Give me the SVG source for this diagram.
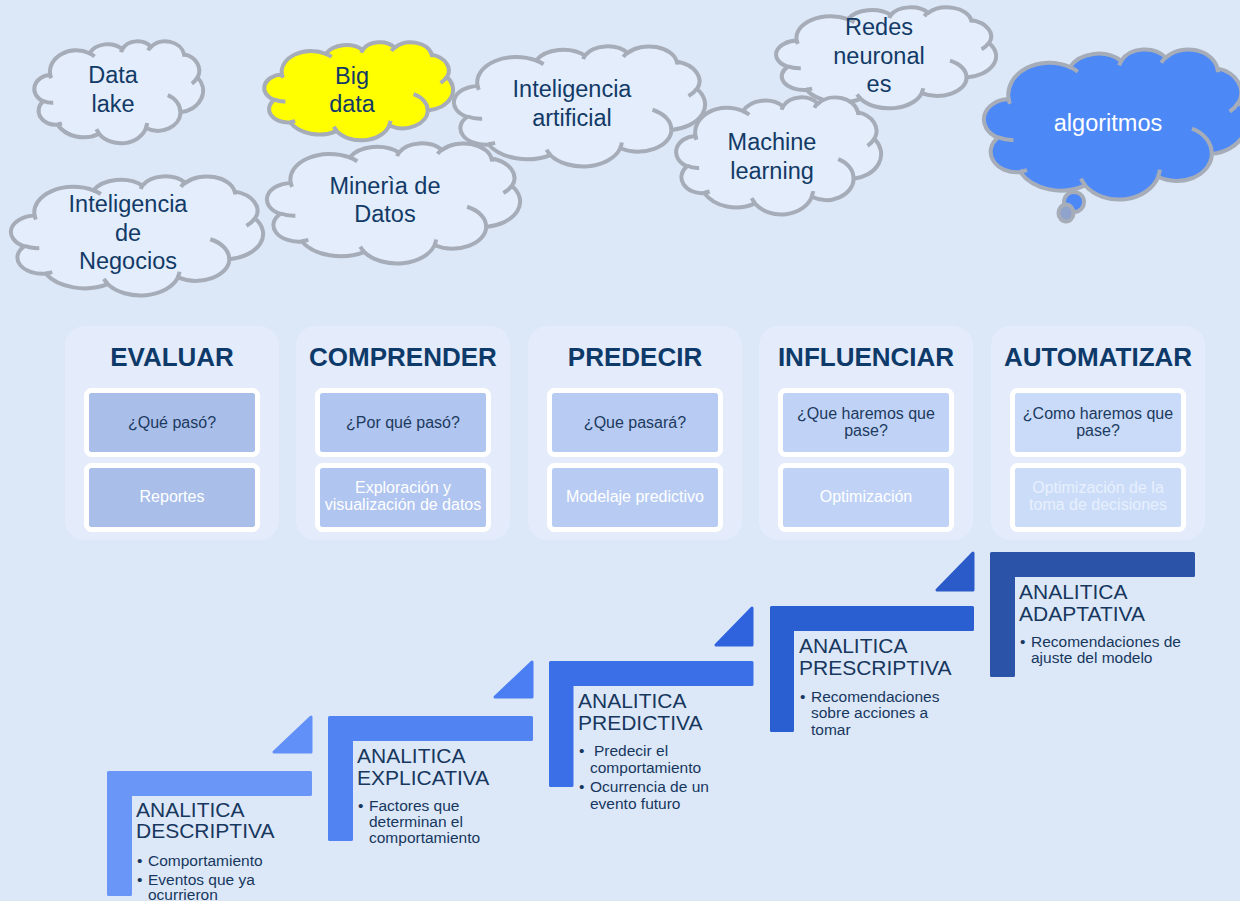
<svg xmlns="http://www.w3.org/2000/svg" xmlns:xlink="http://www.w3.org/1999/xlink" width="1240" height="901" viewBox="0 0 1240 901">
<style>
  .cloud { fill: #e3edfc; stroke: #a6adb8; }
  .cloudtxt { font-family: "Liberation Sans", Arial, sans-serif; font-size: 23.5px; fill: #123a66; text-anchor: middle; }
  .panel { fill: #e4ecfc; }
  .title { font-family: "Liberation Sans", Arial, sans-serif; font-size: 26px; font-weight: bold; fill: #0e3a69; text-anchor: middle; }
  .box { stroke: #ffffff; stroke-width: 5; }
  .qtxt { font-family: "Liberation Sans", Arial, sans-serif; font-size: 16px; fill: #1c3a5e; text-anchor: middle; }
  .atxt { font-family: "Liberation Sans", Arial, sans-serif; font-size: 16px; fill: #ffffff; text-anchor: middle; }
  .head { font-family: "Liberation Sans", Arial, sans-serif; font-size: 21px; fill: #17375e; }
  .bul { font-family: "Liberation Sans", Arial, sans-serif; font-size: 15.5px; fill: #17375e; }
  .step { stroke-width: 3; stroke-linejoin: round; }
</style>
<defs>
  <path id="cloud" vector-effect="non-scaling-stroke" stroke-width="4" d="M9.03,33.26 A15.63,21.27 0 0 1 32.42,12.04 A12.34,16.82 0 0 1 51.98,7.94 A10.1,13.76 0 0 1 69.06,5.74 A11.24,15.27 0 0 1 88.7,12.91 A12.34,16.84 0 0 1 96.81,35.78 A15.68,21.34 0 0 1 86.58,69.91 A13.39,18.21 0 0 1 66.1,85.21 A15.63,21.33 0 0 1 38.15,90.88 A17.87,24.41 0 0 1 13.43,82.1 A10.09,13.7 0 0 1 4.88,59.13 A10.06,13.76 0 0 1 9.03,33.26 Z"/>
  <path id="cloudIn" vector-effect="non-scaling-stroke" stroke-width="4" fill="none" d="M10.86,60.59 A10.06,13.76 0 0 1 5,58.75 M16.04,80.78 A10.09,13.7 0 0 1 13.47,81.67 M38.14,90.49 A15.63,21.33 0 0 1 36.6,86.46 M66.73,80.44 A15.63,21.33 0 0 1 66.11,84.86 M79,53.13 A13.39,18.21 0 0 1 86.53,69.65 M96.75,35.54 A12.34,16.84 0 0 1 93.4,41.74 M88.71,12.56 A11.24,15.27 0 0 1 88.89,15.49 M67.31,9.15 A11.24,15.27 0 0 1 69.03,5.41 M51.25,10.93 A10.1,13.76 0 0 1 52.08,7.71 M32.41,12.02 A15.63,21.27 0 0 1 35.43,15.16 M9.55,36.55 A15.63,21.27 0 0 1 9.03,33.27"/>
</defs>
<rect x="0" y="0" width="1240" height="901" fill="#dce8f8"/>

<!-- Clouds -->
<g id="cloud-data-lake">
  <g class="cloud" transform="translate(35,41) scale(1.68,1.02)"><use href="#cloud"/><use href="#cloudIn"/></g>
  <text class="cloudtxt" x="113" y="83">Data</text>
  <text class="cloudtxt" x="113" y="111.5">lake</text>
</g>
<g id="cloud-big-data">
  <g class="cloud" style="fill:#ffff00" transform="translate(265,42) scale(1.88,0.98)"><use href="#cloud"/><use href="#cloudIn"/></g>
  <text class="cloudtxt" x="352" y="83.5">Big</text>
  <text class="cloudtxt" x="352" y="112">data</text>
</g>
<g id="cloud-inteligencia-negocios">
  <g class="cloud" transform="translate(12,176) scale(2.51,1.19)"><use href="#cloud"/><use href="#cloudIn"/></g>
  <text class="cloudtxt" x="128" y="212">Inteligencia</text>
  <text class="cloudtxt" x="128" y="240.5">de</text>
  <text class="cloudtxt" x="128" y="269">Negocios</text>
</g>
<g id="cloud-inteligencia-artificial">
  <g class="cloud" transform="translate(455,46) scale(2.5,1.2)"><use href="#cloud"/><use href="#cloudIn"/></g>
  <text class="cloudtxt" x="572" y="97">Inteligencia</text>
  <text class="cloudtxt" x="572" y="125.5">artificial</text>
</g>
<g id="cloud-mineria">
  <g class="cloud" transform="translate(268,143) scale(2.52,1.2)"><use href="#cloud"/><use href="#cloudIn"/></g>
  <text class="cloudtxt" x="385" y="193.5">Minerìa de</text>
  <text class="cloudtxt" x="385" y="222">Datos</text>
</g>
<g id="cloud-redes">
  <g class="cloud" transform="translate(777,7) scale(2.19,1.01)"><use href="#cloud"/><use href="#cloudIn"/></g>
  <text class="cloudtxt" x="879" y="35">Redes</text>
  <text class="cloudtxt" x="879" y="63.5">neuronal</text>
  <text class="cloudtxt" x="879" y="92">es</text>
</g>
<g id="cloud-machine">
  <g class="cloud" transform="translate(677,97) scale(2.04,1.17)"><use href="#cloud"/><use href="#cloudIn"/></g>
  <text class="cloudtxt" x="772" y="150">Machine</text>
  <text class="cloudtxt" x="772" y="178.5">learning</text>
</g>
<g id="cloud-algoritmos">
  <ellipse cx="1074" cy="202" rx="10" ry="10" fill="#4d88f7" stroke="#a6adb8" stroke-width="4"/>
  <ellipse cx="1066" cy="213" rx="7.5" ry="8.5" fill="#8fa3cc" stroke="#a6adb8" stroke-width="4"/>
  <g class="cloud" style="fill:#4d88f7" transform="translate(985,49) scale(2.62,1.5)"><use href="#cloud"/><use href="#cloudIn"/></g>
  <text class="cloudtxt" style="fill:#ffffff" x="1108" y="131">algoritmos</text>
</g>

<!-- Panels -->
<g id="panel-evaluar">
  <rect class="panel" x="65" y="326" width="214" height="214" rx="20"/>
  <text class="title" x="172" y="366">EVALUAR</text>
  <rect class="box" x="86.5" y="390.5" width="171" height="64" rx="5" fill="#a9bfea"/>
  <text class="qtxt" x="172" y="428">¿Qué pasó?</text>
  <rect class="box" x="86.5" y="465.5" width="171" height="64" rx="5" fill="#a9bfea"/>
  <text class="atxt" x="172" y="502">Reportes</text>
</g>
<g id="panel-comprender">
  <rect class="panel" x="296" y="326" width="214" height="214" rx="20"/>
  <text class="title" x="403" y="366">COMPRENDER</text>
  <rect class="box" x="317.5" y="390.5" width="171" height="64" rx="5" fill="#b0c5ef"/>
  <text class="qtxt" x="403" y="428">¿Por qué pasó?</text>
  <rect class="box" x="317.5" y="465.5" width="171" height="64" rx="5" fill="#b0c5ef"/>
  <text class="atxt" x="403" y="493">Exploración y</text>
  <text class="atxt" x="403" y="510">visualización de datos</text>
</g>
<g id="panel-predecir">
  <rect class="panel" x="528" y="326" width="214" height="214" rx="20"/>
  <text class="title" x="635" y="366">PREDECIR</text>
  <rect class="box" x="549.5" y="390.5" width="171" height="64" rx="5" fill="#b8ccf3"/>
  <text class="qtxt" x="635" y="428">¿Que pasará?</text>
  <rect class="box" x="549.5" y="465.5" width="171" height="64" rx="5" fill="#b8ccf3"/>
  <text class="atxt" x="635" y="502">Modelaje predictivo</text>
</g>
<g id="panel-influenciar">
  <rect class="panel" x="759" y="326" width="214" height="214" rx="20"/>
  <text class="title" x="866" y="366">INFLUENCIAR</text>
  <rect class="box" x="780.5" y="390.5" width="171" height="64" rx="5" fill="#c0d3f7"/>
  <text class="qtxt" x="866" y="419">¿Que haremos que</text>
  <text class="qtxt" x="866" y="436">pase?</text>
  <rect class="box" x="780.5" y="465.5" width="171" height="64" rx="5" fill="#c0d3f7"/>
  <text class="atxt" x="866" y="502">Optimización</text>
</g>
<g id="panel-automatizar">
  <rect class="panel" x="991" y="326" width="214" height="214" rx="20"/>
  <text class="title" x="1098" y="366">AUTOMATIZAR</text>
  <rect class="box" x="1012.5" y="390.5" width="171" height="64" rx="5" fill="#c9dbf9"/>
  <text class="qtxt" x="1098" y="419">¿Como haremos que</text>
  <text class="qtxt" x="1098" y="436">pase?</text>
  <rect class="box" x="1012.5" y="465.5" width="171" height="64" rx="5" fill="#cbdcf9"/>
  <text class="atxt" x="1098" y="493" style="fill:#e8f0fd">Optimización de la</text>
  <text class="atxt" x="1098" y="510" style="fill:#e8f0fd">toma de decisiones</text>
</g>

<!-- Step connectors (triangles) -->
<g id="connectors">
  <path class="step" fill="#6190f8" stroke="#6190f8" d="M274,752 L311,717 L311,752 Z"/>
  <path class="step" fill="#4a7ef2" stroke="#4a7ef2" d="M495,697 L532,662 L532,697 Z"/>
  <path class="step" fill="#2e63dd" stroke="#2e63dd" d="M716,645 L752,608 L752,645 Z"/>
  <path class="step" fill="#2a5bc9" stroke="#2a5bc9" d="M937,590 L973,553 L973,590 Z"/>
</g>

<!-- Stairs -->
<g id="step-descriptiva">
  <path class="step" fill="#6a97f7" stroke="#6a97f7" d="M108.5,772.5 H310.5 V794.5 H130.5 V894.5 H108.5 Z"/>
  <text class="head" x="136" y="817">ANALITICA</text>
  <text class="head" x="136" y="838">DESCRIPTIVA</text>
  <text class="bul" x="137" y="866">•</text>
  <text class="bul" x="148" y="866">Comportamiento</text>
  <text class="bul" x="137" y="885">•</text>
  <text class="bul" x="148" y="885">Eventos que ya</text>
  <text class="bul" x="148" y="900">ocurrieron</text>
</g>
<g id="step-explicativa">
  <path class="step" fill="#5283f2" stroke="#5283f2" d="M329.5,717.5 H531.5 V739.5 H351.5 V839.5 H329.5 Z"/>
  <text class="head" x="357" y="763">ANALITICA</text>
  <text class="head" x="357" y="785">EXPLICATIVA</text>
  <text class="bul" x="358" y="811">•</text>
  <text class="bul" x="369" y="811">Factores que</text>
  <text class="bul" x="369" y="827">determinan el</text>
  <text class="bul" x="369" y="843">comportamiento</text>
</g>
<g id="step-predictiva">
  <path class="step" fill="#3a6fe8" stroke="#3a6fe8" d="M550.5,662.5 H752 V684.5 H572 V785.5 H550.5 Z"/>
  <text class="head" x="578" y="708">ANALITICA</text>
  <text class="head" x="578" y="730">PREDICTIVA</text>
  <text class="bul" x="579" y="756">•</text>
  <text class="bul" x="594" y="756">Predecir el</text>
  <text class="bul" x="590" y="773">comportamiento</text>
  <text class="bul" x="579" y="792">•</text>
  <text class="bul" x="590" y="792">Ocurrencia de un</text>
  <text class="bul" x="590" y="809">evento futuro</text>
</g>
<g id="step-prescriptiva">
  <path class="step" fill="#2a5fd2" stroke="#2a5fd2" d="M771.5,607.5 H972.5 V629.5 H792.5 V730.5 H771.5 Z"/>
  <text class="head" x="799" y="653">ANALITICA</text>
  <text class="head" x="799" y="675">PRESCRIPTIVA</text>
  <text class="bul" x="800" y="702">•</text>
  <text class="bul" x="811" y="702">Recomendaciones</text>
  <text class="bul" x="811" y="718">sobre acciones a</text>
  <text class="bul" x="811" y="735">tomar</text>
</g>
<g id="step-adaptativa">
  <path class="step" fill="#2b53a8" stroke="#2b53a8" d="M991.5,553.5 H1193.5 V575.5 H1013.5 V675.5 H991.5 Z"/>
  <text class="head" x="1019" y="599">ANALITICA</text>
  <text class="head" x="1019" y="621">ADAPTATIVA</text>
  <text class="bul" x="1020" y="647">•</text>
  <text class="bul" x="1031" y="647">Recomendaciones de</text>
  <text class="bul" x="1031" y="663">ajuste del modelo</text>
</g>
</svg>
